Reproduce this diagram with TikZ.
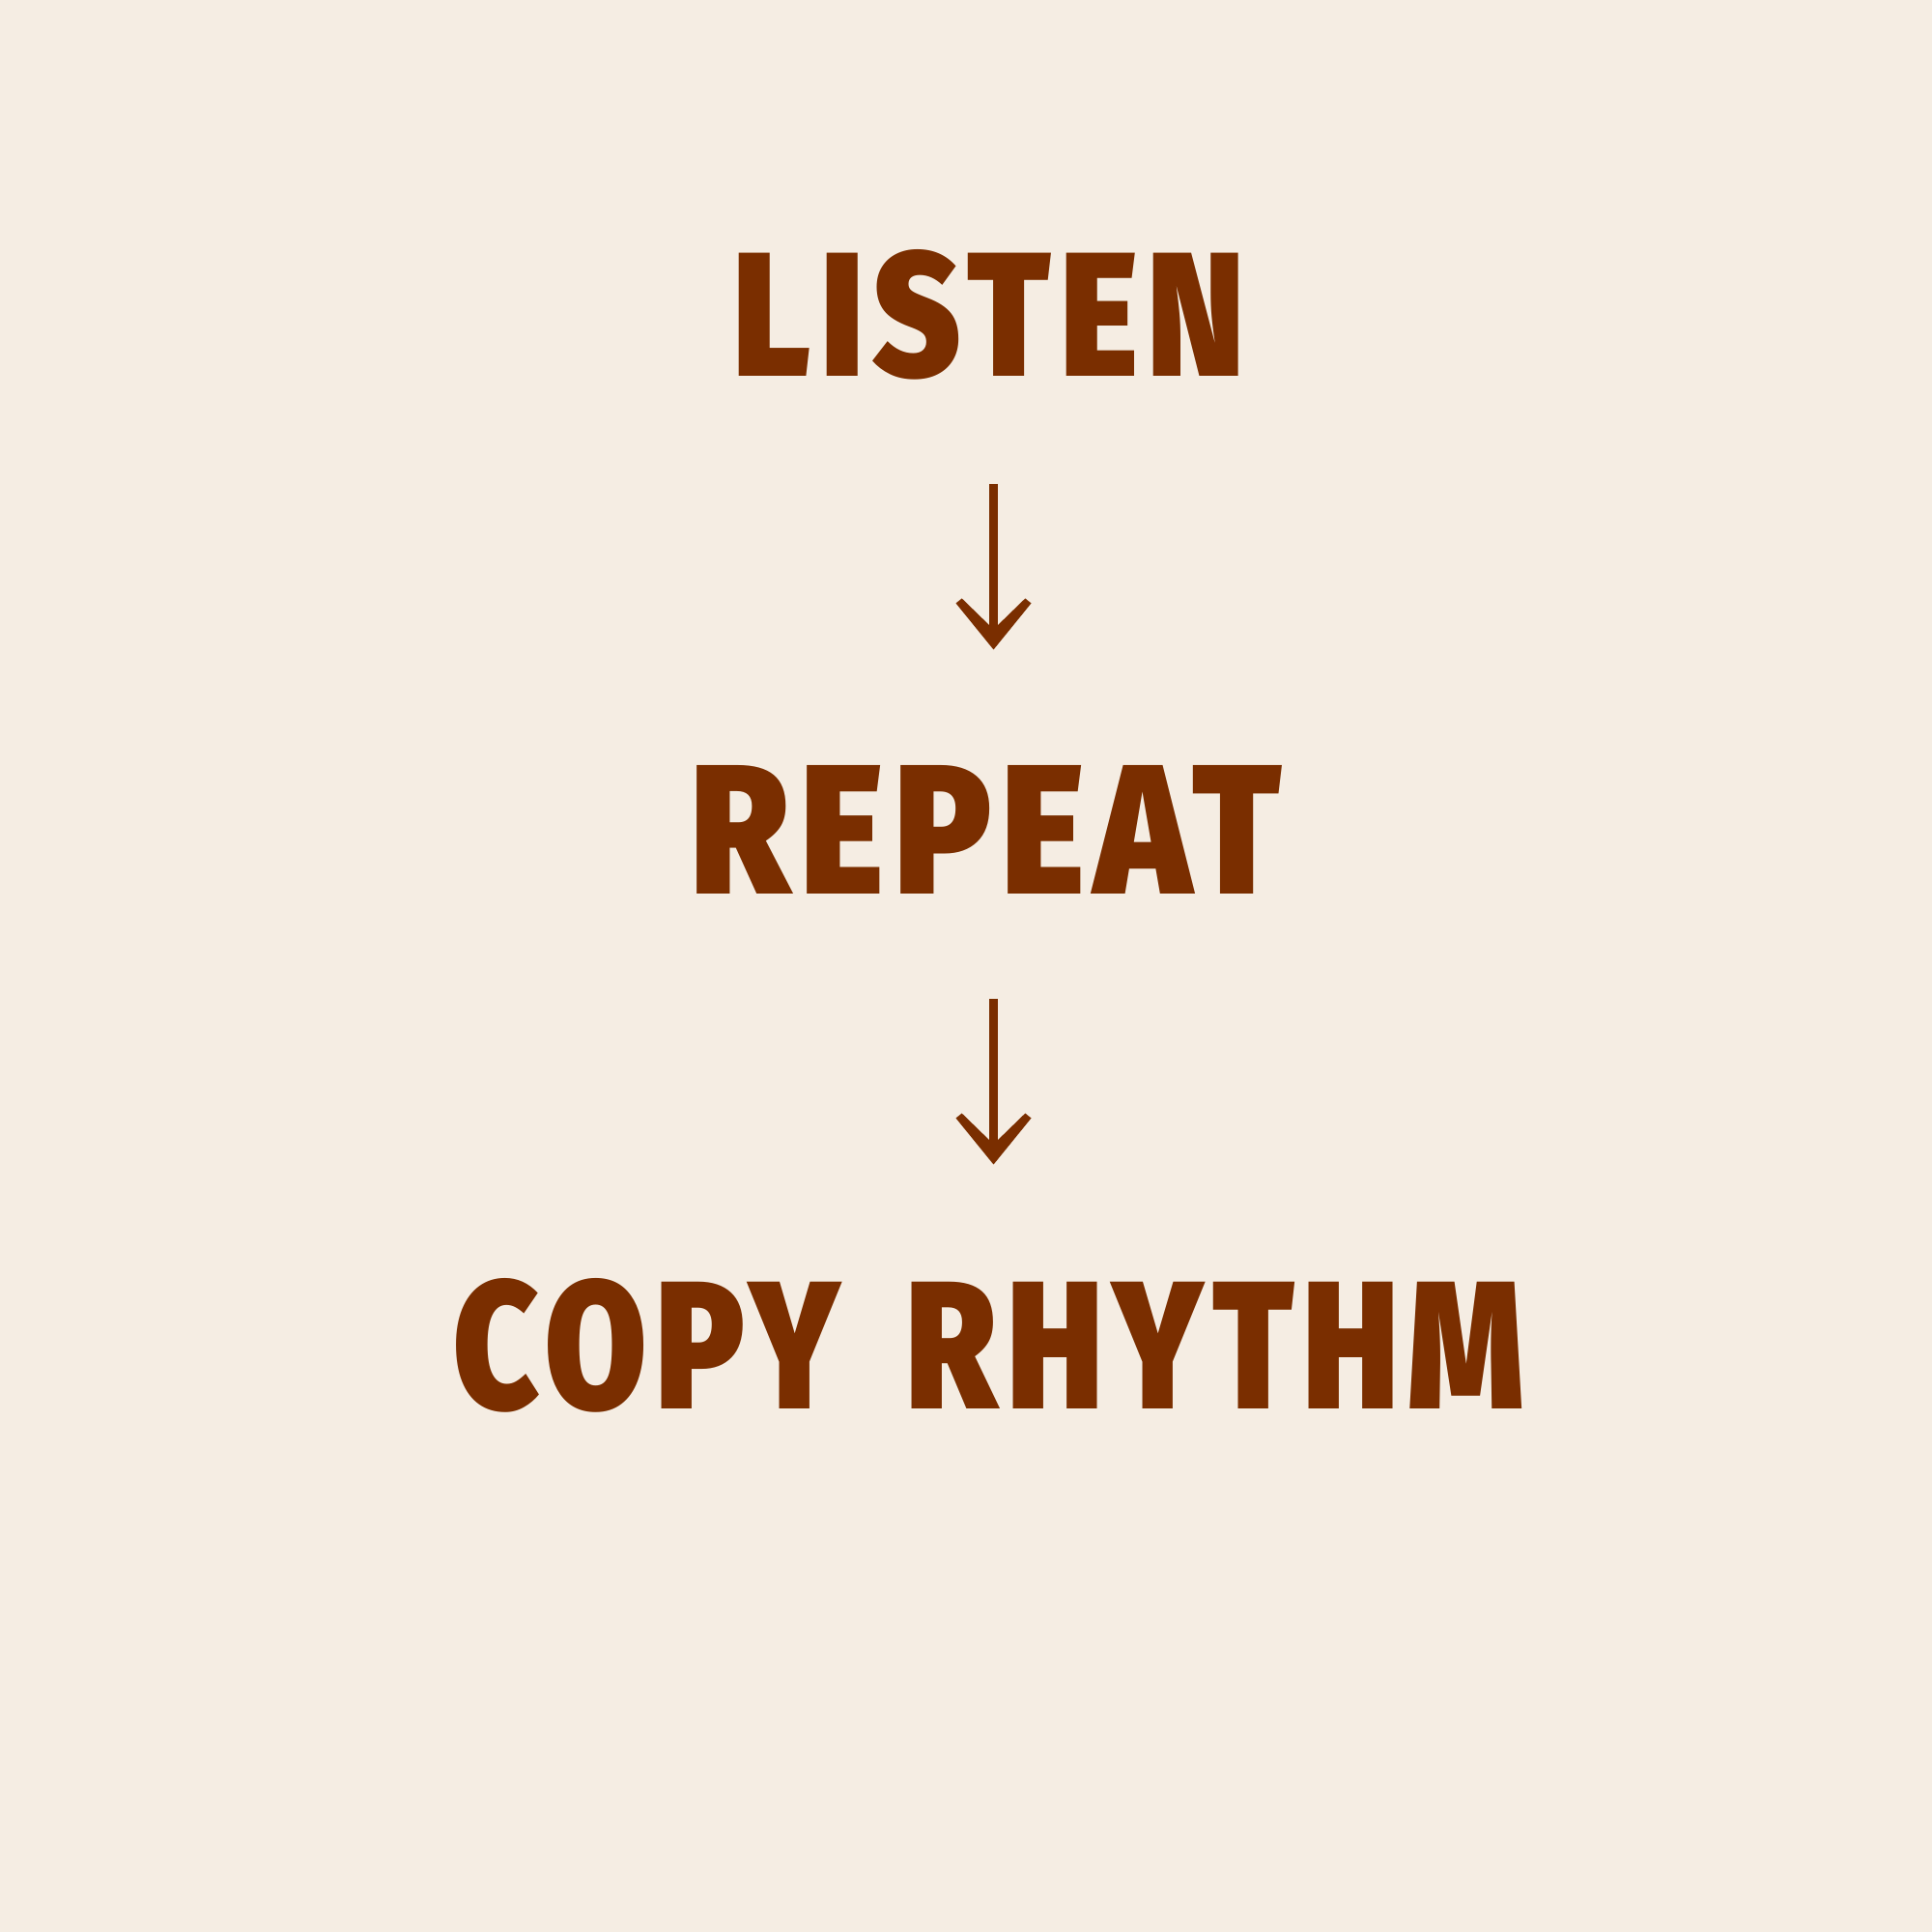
\documentclass[tikz,border=0pt]{standalone}
\usepackage{fontspec}
\usetikzlibrary{calc}
\newfontfamily\heavy{Fira Sans Black}[LetterSpace=6]
\definecolor{bg}{RGB}{245,237,227}
\definecolor{ink}{RGB}{122,46,0}
\begin{document}
\begin{tikzpicture}[
  word/.style={inner sep=0pt, text=ink},
  shaft/.style={draw=ink, line width=0.093cm},
  head/.style={fill=ink}
]
\fill[bg] (0,0) rectangle (20,20);
\useasboundingbox (0,0) rectangle (20,20);
\node[word] (listen) at (10.235,16.745) {\resizebox{5.3cm}{1.31cm}{\heavy LISTEN}};
\node[word] (repeat) at (10.21,11.415) {\resizebox{6.12cm}{1.33cm}{\heavy REPEAT}};
\node[word] (copy) at (10.24,6.075) {\resizebox{11.08cm}{1.35cm}{\heavy COPY\hspace{0.45em}RHYTHM}};
\coordinate (s1) at (10.285,14.99);
\coordinate (t1) at (10.285,13.275);
\coordinate (s2) at (10.285,9.66);
\coordinate (t2) at (10.285,7.945);
\draw[shaft] (s1) -- ($(t1)+(0,0.2)$);
\draw[shaft] (s2) -- ($(t2)+(0,0.2)$);
\foreach \t in {t1,t2}{
  \fill[head] (\t) -- ++(-0.39,0.48) -- ++(0.062,0.05) -- ($(\t)+(0,0.21)$)
    -- ($(\t)+(0.328,0.53)$) -- ++(0.062,-0.05) -- cycle;
}
\end{tikzpicture}
\end{document}
